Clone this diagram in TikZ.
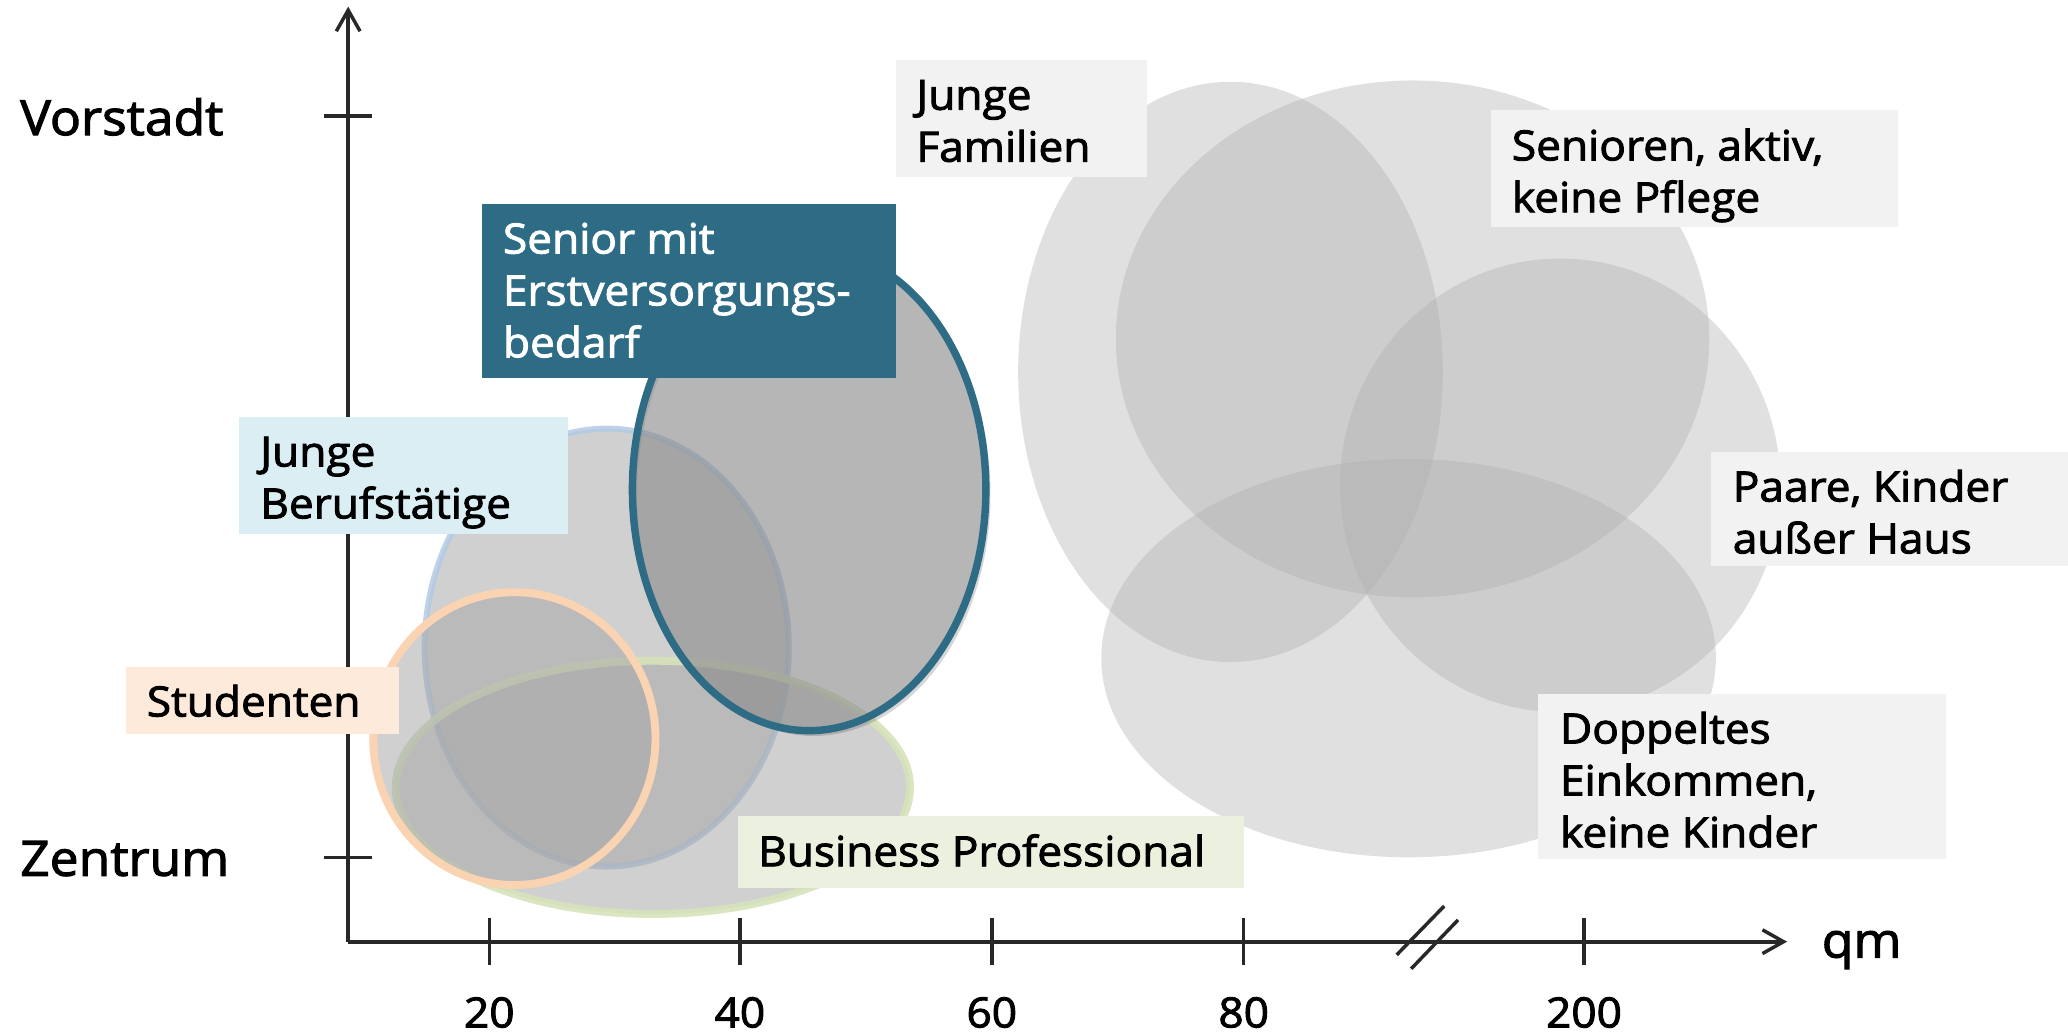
\documentclass[tikz,border=0pt]{standalone}
\usepackage{fontspec}
\setmainfont{Open Sans}[FakeBold=2.2, FakeStretch=1.06]
\usetikzlibrary{arrows.meta}
\definecolor{bigfill}{RGB}{175,175,175}
\definecolor{leftfill}{RGB}{167,167,167}
\definecolor{hfill}{RGB}{141,141,141}
\definecolor{seniorteal}{RGB}{46,108,133}
\definecolor{blueline}{RGB}{180,202,228}
\definecolor{peachline}{RGB}{250,211,178}
\definecolor{greenline}{RGB}{213,227,186}
\definecolor{boxgray}{RGB}{242,242,242}
\definecolor{boxblue}{RGB}{219,238,244}
\definecolor{boxpeach}{RGB}{253,234,218}
\definecolor{boxgreen}{RGB}{235,241,222}
\definecolor{axisgray}{RGB}{40,40,40}
\begin{document}
\begin{tikzpicture}[x=0.02cm,y=-0.02cm,
  axisline/.style={line width=1.7pt, draw=axisgray},
  tickline/.style={line width=1.5pt, draw=axisgray},
  tip/.style={-{Straight Barb[length=0.32cm,width=0.36cm,line width=1.5pt]}},
  bigell/.style={fill=bigfill, fill opacity=0.39},
  leftell/.style={fill=leftfill, fill opacity=0.53},
  boxbg/.style={rectangle, inner sep=0pt, anchor=north west, draw=none},
  lbl/.style={inner sep=0pt, anchor=north west, align=left, font=\fontsize{18}{22.4}\selectfont},
  axislbl/.style={inner sep=0pt, anchor=base west, font=\fontsize{21}{25}\selectfont},
  ticklbl/.style={inner sep=0pt, anchor=base, font=\fontsize{18}{22}\selectfont}]
\useasboundingbox (0,0) rectangle (1568,785);

% axes
\coordinate (O) at (264,714);
\coordinate (ytop) at (264,5);
\coordinate (xend) at (1355,714);
\draw[axisline, tip] (O) -- (ytop);
\draw[axisline, tip] (O) -- (xend);
\draw[tickline] (246,88) -- (282,88);
\draw[tickline] (246,650) -- (282,650);
\foreach \x in {371,561,752,943,1201} \draw[tickline] (\x,696) -- (\x,732);
\draw[tickline] (1095,687) -- (1059,724);
\draw[tickline] (1105.5,697.5) -- (1070,734.5);

% big group
\fill[bigell] (933,282) ellipse [x radius=161, y radius=220];
\fill[bigell] (1071,257) ellipse [x radius=225, y radius=196];
\fill[bigell] (1183,368) ellipse [x radius=167, y radius=172];
\fill[bigell] (1068,499) ellipse [x radius=233, y radius=151];

% left group
\filldraw[leftell, draw=blueline, draw opacity=0.85, line width=2.6pt] (460,491) ellipse [x radius=138, y radius=166];
\filldraw[leftell, draw=greenline, draw opacity=0.9, line width=3.4pt] (495,597) ellipse [x radius=195, y radius=96];
\filldraw[leftell, draw=peachline, line width=3.4pt] (390,560) ellipse [x radius=107, y radius=111];
\fill[black, opacity=0.16, even odd rule] (617,375) ellipse [x radius=134, y radius=183] (613.5,371) ellipse [x radius=134, y radius=183];
\filldraw[fill=hfill, fill opacity=0.64, draw=seniorteal, line width=3.2pt] (613.5,371) ellipse [x radius=134, y radius=183];

% boxes
\node[boxbg, fill=boxgray, minimum width=3.80cm, minimum height=1.77cm] (bJF) at (679,45) {};
\node[lbl] (tJF) at (694.5,55.3) {\strut Junge\\Familien};
\node[boxbg, fill=boxgray, minimum width=6.18cm, minimum height=1.76cm] (bSEN) at (1130,83.4) {};
\node[lbl] (tSEN) at (1146,93.7) {\strut Senioren, aktiv,\\keine Pflege};
\node[boxbg, fill=boxgray, minimum width=5.50cm, minimum height=1.74cm] (bPA) at (1297,342) {};
\node[lbl] (tPA) at (1313.5,352.3) {\strut Paare, Kinder\\außer Haus};
\node[boxbg, fill=boxgray, minimum width=6.18cm, minimum height=2.51cm] (bDO) at (1166,525.5) {};
\node[lbl] (tDO) at (1182.5,535.8) {\strut Doppeltes\\Einkommen,\\keine Kinder};
\node[boxbg, fill=seniorteal, minimum width=6.28cm, minimum height=2.65cm] (bSM) at (365,154) {};
\node[lbl, text=white] (tSM) at (381,164.3) {\strut Senior mit\\Erstversorgungs-\\bedarf};
\node[boxbg, fill=boxblue, minimum width=4.98cm, minimum height=1.78cm] (bJB) at (181,315.5) {};
\node[lbl] (tJB) at (197,325.8) {\strut Junge\\Berufstätige};
\node[boxbg, fill=boxpeach, minimum width=4.15cm, minimum height=1.03cm] (bST) at (95,505) {};
\node[lbl] (tST) at (111,515.3) {\strut Studenten};
\node[boxbg, fill=boxgreen, minimum width=7.68cm, minimum height=1.08cm] (bBP) at (559,618.6) {};
\node[lbl] (tBP) at (574.5,628.9) {\strut Business Professional};

% axis labels
\node[axislbl] (vor) at (15,102.4) {Vorstadt};
\node[axislbl] (zen) at (15,664) {Zentrum};
\node[axislbl] (qm) at (1381,726) {qm};
\node[ticklbl] (l20) at (371,779) {20};
\node[ticklbl] (l40) at (561,779) {40};
\node[ticklbl] (l60) at (752,779) {60};
\node[ticklbl] (l80) at (943,779) {80};
\node[ticklbl] (l200) at (1201,779) {200};
\end{tikzpicture}
\end{document}
